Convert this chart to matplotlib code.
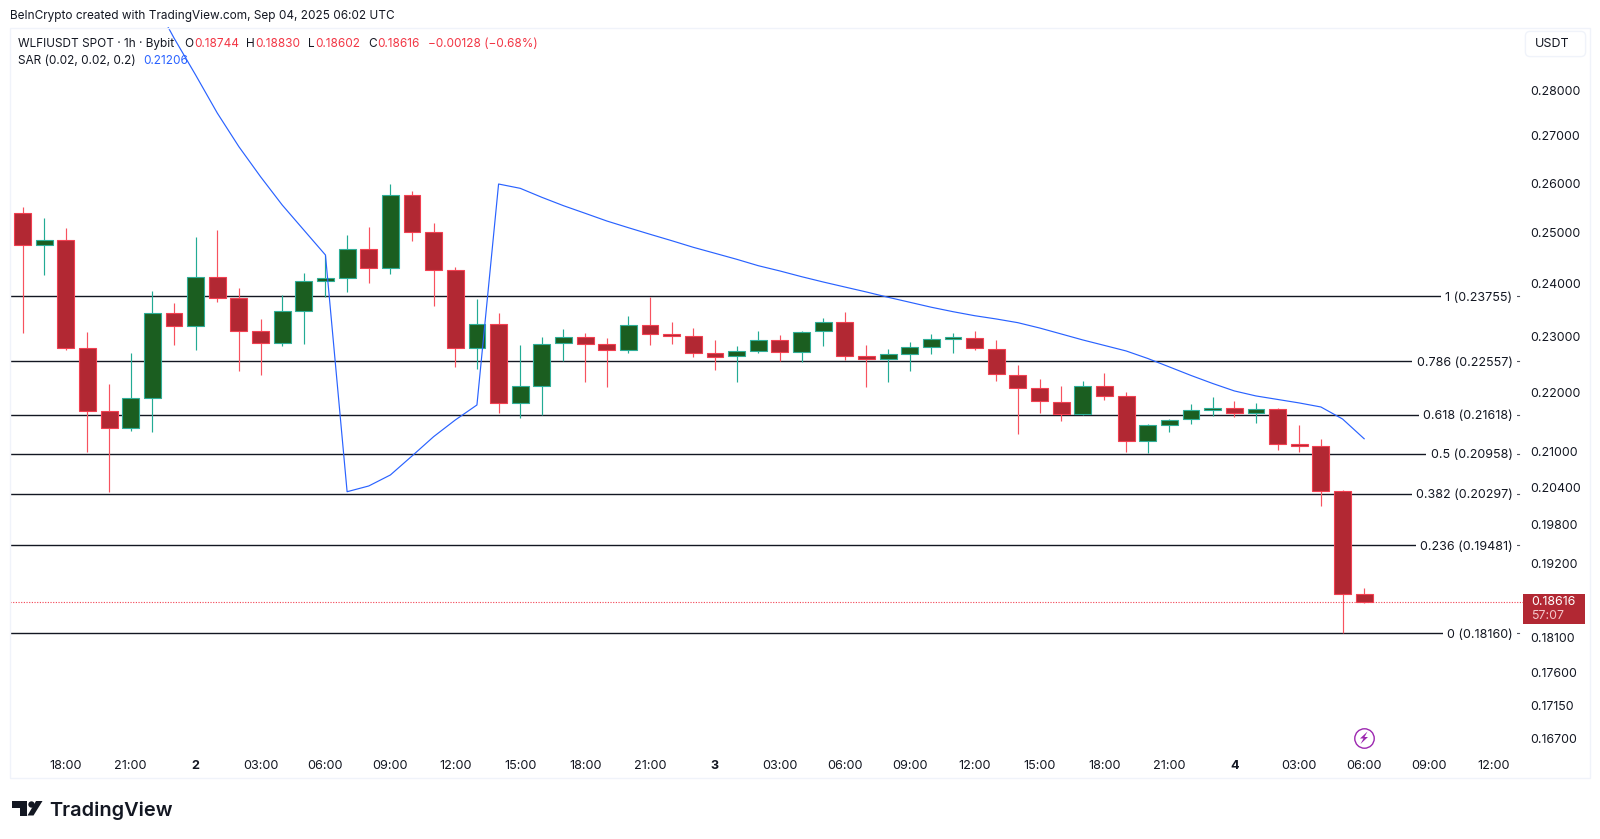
import numpy as np
import matplotlib
matplotlib.use("Agg")
import matplotlib.pyplot as plt
from matplotlib.patches import Polygon, Rectangle, FancyBboxPatch

plt.rcParams['font.family'] = ['Inter', 'DejaVu Sans']

# 1h candles, first one is Sep 1 16:00
opens = [.25392, .24741, .24846, .22803, .21686, .21394, .21902, .23436, .23206, .24118,
         .23718, .23102, .22883, .23485, .24053, .24110, .24674, .24298, .25759, .25010,
         .24253, .22792, .23243, .21815, .22117, .22883, .23003, .22876, .22755, .23224,
         .23053, .23016, .22707, .22647, .22748, .22949, .22730, .23102, .23280, .22652,
         .22592, .22694, .22821, .22967, .22974, .22785, .22317, .22082, .21842, .21634,
         .22117, .21942, .21174, .21435, .21538, .21703, .21728, .21646, .21710, .21118,
         .21079, .20342, .18744]
highs = [.25502, .25279, .25090, .23095, .22153, .22712, .23856, .23630, .24911, .25050,
         .23907, .23335, .23780, .24201, .24550, .24951, .25098, .25979, .25841, .25179,
         .24317, .23705, .23447, .22847, .23003, .23138, .23077, .22974, .23391, .23748,
         .23280, .23157, .22938, .22839, .23113, .23029, .23105, .23342, .23455, .22846,
         .22779, .22912, .23058, .23066, .23113, .22938, .22485, .22235, .22112, .22200,
         .22341, .22007, .21452, .21548, .21797, .21925, .21860, .21815, .21733, .21445,
         .21208, .20358, .18830]
lows = [.23066, .24168, .22761, .20984, .20330, .21343, .21316, .22852, .22761, .23654,
        .22389, .22312, .22834, .22870, .23748, .23843, .24003, .24182, .24832, .23573,
        .22460, .22419, .21641, .21566, .21607, .22562, .22188, .22100, .22701, .22852,
        .22865, .22634, .22396, .22188, .22712, .22562, .22544, .22839, .22586, .22100,
        .22193, .22383, .22689, .22712, .22761, .22211, .21282, .21652, .21504, .21607,
        .21867, .20989, .20962, .21326, .21452, .21600, .21572, .21469, .21017, .20989,
        .20100, .18160, .18602]
closes = [.24741, .24846, .22803, .21686, .21394, .21902, .23436, .23206, .24118, .23718,
          .23102, .22883, .23485, .24053, .24110, .24674, .24298, .25759, .25010, .24253,
          .22792, .23243, .21815, .22117, .22870, .23003, .22876, .22755, .23224, .23047,
          .23022, .22712, .22640, .22743, .22949, .22730, .23095, .23280, .22652, .22592,
          .22689, .22821, .22961, .22992, .22792, .22324, .22082, .21849, .21629, .22117,
          .21942, .21174, .21435, .21526, .21703, .21733, .21641, .21710, .21123, .21079,
          .20342, .18744, .18616]
sar = [np.nan] * 6 + [
    .30130, .29185, .28337, .27491, .26763, .26131, .25549, .25044, .24550,
    .20330, .20423, .20603, .20917, .21242, .21526, .21785,
    .25979, .25890, .25705, .25534, .25380, .25225, .25090, .24959, .24832, .24701,
    .24584, .24467, .24342, .24240, .24130, .24028, .23932, .23837, .23737, .23643,
    .23549, .23466, .23391, .23330, .23261, .23163, .23053, .22943, .22843, .22743,
    .22607, .22455, .22303, .22161, .22030, .21942, .21881, .21820, .21750, .21543, .21206]

fib_levels = [.23755, .22557, .21618, .20958, .20297, .19481, .18160]
fib_labels = ["1 (0.23755)", "0.786 (0.22557)", "0.618 (0.21618)", "0.5 (0.20958)",
              "0.382 (0.20297)", "0.236 (0.19481)", "0 (0.18160)"]
price_ticks = [.28, .27, .26, .25, .24, .23, .22, .21, .204, .198, .192, .181, .176, .1715, .167]
time_labels = ["18:00", "21:00", "2", "03:00", "06:00", "09:00", "12:00", "15:00", "18:00", "21:00",
               "3", "03:00", "06:00", "09:00", "12:00", "15:00", "18:00", "21:00",
               "4", "03:00", "06:00", "09:00", "12:00"]
last_price = .18616

UP_BODY, UP_EDGE, UP_WICK = '#1b5e20', '#2fae98', '#22ab94'
DOWN_BODY, DOWN_EDGE, DOWN_WICK = '#b22833', '#f23f50', '#f7525f'
INK = '#131722'
W, H = 1600, 839


def px(x, y):
    # screen pixels to figure fractions
    return x / W, 1 - y / H


fig = plt.figure(figsize=(W / 100, H / 100), dpi=100)
left, right, top, bottom = 10, 1523, 27.5, 750
ax = fig.add_axes([left / W, 1 - bottom / H, (right - left) / W, (bottom - top) / H])
ax.set_yscale('log')
ax.set_ylim(.16548, .29430)
ax.set_xlim(-.578, 69.34)
for s in ax.spines.values():
    s.set_visible(False)

# pane frame
fig.add_artist(Rectangle(px(10, 778), 1580 / W, 750.5 / H, transform=fig.transFigure,
                         fill=False, ec='#f0f3fa', lw=1))

idx = np.arange(len(opens))
for i in idx:
    up = closes[i] >= opens[i]
    ax.plot([i, i], [lows[i], highs[i]], color=UP_WICK if up else DOWN_WICK, lw=.85, zorder=2,
            solid_capstyle='butt')
    ax.bar(i, abs(closes[i] - opens[i]), bottom=min(opens[i], closes[i]), width=.78,
           color=UP_BODY if up else DOWN_BODY, edgecolor=UP_EDGE if up else DOWN_EDGE,
           linewidth=.8, zorder=3)

ax.plot(idx, sar, color='#2962ff', lw=.85, zorder=4)

# fib levels: line runs under the label, white box cuts it
tr = ax.get_yaxis_transform()
for lev, lab in zip(fib_levels, fib_labels):
    ax.plot([0, .9931], [lev, lev], transform=tr, color=INK, lw=1, zorder=1.5)
    ax.plot([.9947, .9974], [lev, lev], transform=tr, color='#50535e', lw=.8)
    ax.text(.9931, lev, lab, transform=tr, ha='right', va='center_baseline', fontsize=9, color=INK,
            zorder=5, bbox=dict(fc='white', ec='none', pad=3))

ax.axhline(last_price, color=DOWN_EDGE, lw=.8, ls=(0, (1, 1.4)), zorder=1.8)

ax.yaxis.tick_right()
ax.set_yticks(price_ticks)
ax.set_yticklabels([f"{p:.5f}" for p in price_ticks])
ax.yaxis.set_minor_locator(matplotlib.ticker.NullLocator())
ax.tick_params(axis='y', length=0, pad=5.2, labelsize=8.9, labelcolor=INK)

ax.set_xticks(np.arange(2, 69, 3))
ax.set_xticklabels(time_labels)
ax.tick_params(axis='x', length=0, pad=7.2, labelsize=9.1, labelcolor=INK)
for t in ax.get_xticklabels():
    if len(t.get_text()) == 1:
        t.set_fontweight('bold')

# header and legend
fig.text(*px(10.5, 16.5), "BeInCrypto created with TradingView.com, Sep 04, 2025 06:02 UTC",
         fontsize=8.5, color=INK, va='center')
RED, BLUE = '#f23645', '#2962ff'
for x, s, c in [(18, "WLFIUSDT SPOT · 1h · Bybit", INK), (184, "O", INK), (194, "0.18744", RED),
                (246, "H", INK), (255, "0.18830", RED), (308, "L", INK), (315, "0.18602", RED),
                (368, "C", INK), (377, "0.18616", RED), (427.5, "−0.00128 (−0.68%)", RED)]:
    fig.text(*px(x, 44), s, fontsize=8.5, color=c, va='center')
fig.text(*px(18, 61), "SAR (0.02, 0.02, 0.2)", fontsize=8.5, color=INK, va='center')
fig.text(*px(143, 61), "0.21206", fontsize=8.5, color=BLUE, va='center')

# currency button
fig.add_artist(FancyBboxPatch(px(1527, 55), 57 / W, 22 / H, transform=fig.transFigure,
                              boxstyle="round,pad=0.001,rounding_size=0.003", fc='white',
                              ec='#f0f3fa', lw=1, mutation_aspect=W / H))
fig.text(*px(1535, 44), "USDT", fontsize=9, color=INK, va='center')

# last price tag
fig.add_artist(Rectangle(px(1523, 624), 61.5 / W, 30 / H, transform=fig.transFigure,
                         fc=DOWN_BODY, ec='none'))
fig.text(*px(1531, 602), "0.18616", fontsize=8.9, color='white', va='center')
fig.text(*px(1531, 616), "57:07", fontsize=8.9, color='#f3c6ca', va='center')

# lightning badge
fig.add_artist(plt.Line2D([1364 / W], [1 - 737.7 / H], marker='o', ms=14, mfc='none', mec='#9c27b0',
                          mew=1, transform=fig.transFigure))
fig.add_artist(Polygon([px(1367.5, 731.5), px(1360, 738.5), px(1363.5, 738.5), px(1360.5, 744),
                        px(1368, 737), px(1364.5, 737)], transform=fig.transFigure,
                       fc='#9c27b0', ec='none'))

# TradingView logo
LOGO = '#131722'
fig.add_artist(Polygon([px(12, 801), px(27, 801), px(27, 815.5), px(20, 815.5), px(20, 808), px(12, 808)],
                       transform=fig.transFigure, fc=LOGO, ec='none'))
fig.add_artist(Polygon([px(36, 801), px(42.5, 801), px(33.5, 815.5), px(27.5, 815.5)],
                       transform=fig.transFigure, fc=LOGO, ec='none'))
fig.add_artist(plt.Line2D([31 / W], [1 - 804.3 / H], marker='o', ms=4.6, mfc=LOGO, mec='none',
                          transform=fig.transFigure))
fig.text(*px(49, 810.5), "TradingView", fontsize=14.4, fontweight='semibold', color=LOGO, va='center')

fig.savefig('out.png', dpi=100, facecolor='white')
